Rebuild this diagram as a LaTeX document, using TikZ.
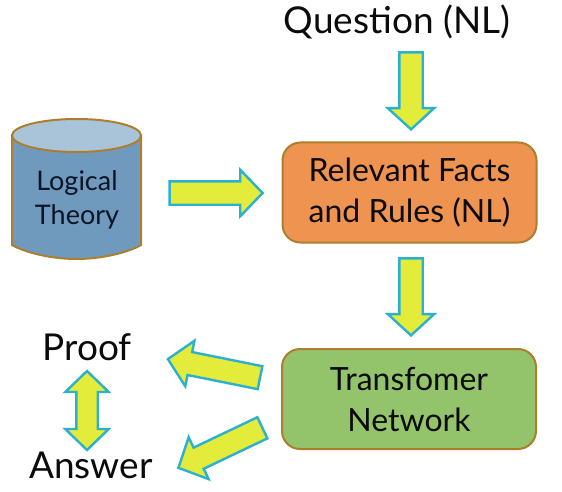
\documentclass[tikz,border=0pt]{standalone}
\usepackage{fontspec}
\setmainfont{Lato}
\usetikzlibrary{shapes.arrows,shapes.geometric}
\definecolor{afill}{HTML}{E3EB3B}
\definecolor{aline}{HTML}{2BB0D0}
\definecolor{brown}{HTML}{AD7E2E}
\definecolor{orangeb}{HTML}{EF9350}
\definecolor{greenb}{HTML}{93C36B}
\definecolor{cylbody}{HTML}{7099BE}
\definecolor{cyltop}{HTML}{A9C3D9}
\definecolor{ink}{HTML}{0B0B0B}
\definecolor{navyink}{HTML}{0A1526}
\tikzset{
  x=1pt,y=-1pt,
  blockarrow/.style={single arrow,draw=aline,fill=afill,line width=2.4pt,inner xsep=0pt,inner ysep=10.5pt,outer sep=0pt,
    single arrow head indent=0pt,single arrow head extend=11.5pt,minimum height=#1,anchor=center},
  vertarrow/.style={blockarrow=77,single arrow tip angle=95,rotate=-90},
  boxnode/.style={draw=brown,line width=2pt,rounded corners=18pt,minimum width=254,minimum height=100,inner sep=0pt,align=center,text=ink},
  bigtext/.style={font=\fontsize{37}{37}\selectfont,text=ink,inner sep=0pt},
  boxtext/.style={font=\fontsize{32}{41}\selectfont},
}
\begin{document}
\begin{tikzpicture}
\useasboundingbox (0,0) rectangle (562,492);
\fill[white] (0,0) rectangle (562,492);
% cylinder
\draw[draw=brown,line width=2pt,fill=cylbody] (12,135.5) -- (12,245) .. controls (24,252) and (50,259) .. (76.5,259) .. controls (103,259) and (129,252) .. (141,245) -- (141,135.5) -- cycle;
\draw[draw=brown,line width=2pt,fill=cyltop] (76.5,135.5) ellipse [x radius=64.5,y radius=16.5];
\node[font=\fontsize{27}{34}\selectfont,align=center,text=navyink,inner sep=0pt] (theory) at (77,200) {Logical\\Theory};
% boxes
\node[boxnode,fill=orangeb,boxtext] (facts) at (409.5,192.5) {Relevant Facts\\and Rules (NL)};
\node[boxnode,fill=greenb,boxtext] (net) at (409,399) {Transfomer\\Network};
% labels
\node[bigtext] (question) at (397,22) {Question (NL)};
\node[bigtext] (proof) at (87,347) {Proof};
\node[bigtext] (answer) at (91,465) {Answer};
% block arrows
\node[vertarrow] (a1) at (411,85.5) {};
\node[vertarrow] (a2) at (411,291.5) {};
\node[blockarrow=93,single arrow tip angle=92] (a3) at (210.5,193) {};
\node[blockarrow=94,single arrow tip angle=92,rotate=168.6] (a4) at (219.5,369.5) {};
\node[blockarrow=93,single arrow tip angle=92,rotate=205.5] (a5) at (225.5,445.4) {};
\node[double arrow,draw=aline,fill=afill,line width=2.4pt,inner xsep=0pt,inner ysep=9.5pt,double arrow head indent=0pt,double arrow head extend=11pt,minimum height=79,double arrow tip angle=92,rotate=90] (a6) at (87,410.5) {};
\end{tikzpicture}
\end{document}
